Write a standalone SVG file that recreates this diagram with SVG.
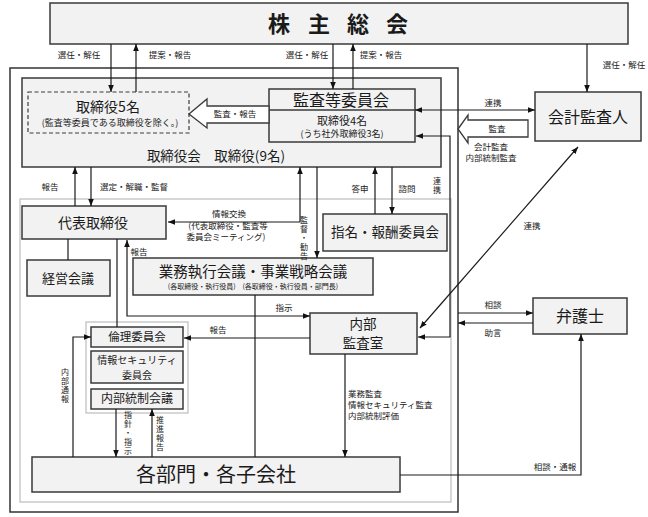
<svg xmlns="http://www.w3.org/2000/svg" width="648" height="517" viewBox="0 0 648 517">
<defs>
<marker id="ah" viewBox="0 0 10 10" refX="10" refY="5" markerWidth="7" markerHeight="7" markerUnits="userSpaceOnUse" orient="auto-start-reverse">
<path d="M0,1 L10,5 L0,9 z" fill="#111"/>
</marker>
<style>
text{font-family:"Noto Sans CJK JP","Noto Sans",sans-serif;fill:#1a1a1a;}
.box{fill:#f2f2f2;stroke:#3a3a3a;stroke-width:1.5;}
.lbl{font-size:8.5px;text-anchor:middle;}
.vl{font-size:8px;writing-mode:vertical-rl;letter-spacing:1px;}
.lbll{font-size:8.5px;}
.t{text-anchor:middle;}
.ln{fill:none;stroke:#1a1a1a;stroke-width:1.2;}
.ar{marker-end:url(#ah);}
.ar2{marker-start:url(#ah);marker-end:url(#ah);}
.hollow{fill:#fff;stroke:#3a3a3a;stroke-width:1.3;}
</style>
</defs>
<rect width="648" height="517" fill="#fff"/>

<!-- frames -->
<rect x="10" y="68" width="448" height="444" fill="none" stroke="#333" stroke-width="1.5"/>
<rect x="20" y="199" width="431" height="303" fill="none" stroke="#bdbdbd" stroke-width="1.2"/>

<g id="shareholders">
<rect class="box" x="50" y="3" width="578" height="41"/>
<text class="t" x="279" y="32" font-size="22" font-weight="bold">株</text>
<text class="t" x="319" y="32" font-size="22" font-weight="bold">主</text>
<text class="t" x="358" y="32" font-size="22" font-weight="bold">総</text>
<text class="t" x="397" y="32" font-size="22" font-weight="bold">会</text>
</g>

<g id="board">
<rect class="box" x="22" y="78" width="419" height="89"/>
<text x="285" y="161" font-size="13.5" text-anchor="end">取締役会　取締役(9名)</text>
</g>

<g id="directors5">
<rect x="28" y="92" width="161" height="41" fill="#f2f2f2" stroke="#3a3a3a" stroke-width="1.2" stroke-dasharray="4,2.5"/>
<text class="t" x="108" y="112" font-size="14">取締役5名</text>
<text class="t" x="110" y="126" font-size="9">(監査等委員である取締役を除く。)</text>
</g>

<g id="audit-committee">
<rect class="box" x="269" y="89" width="146" height="53"/>
<line x1="269" y1="110" x2="415" y2="110" stroke="#3a3a3a" stroke-width="1.3"/>
<text class="t" x="341" y="106" font-size="16">監査等委員会</text>
<text class="t" x="342" y="125" font-size="11">取締役4名</text>
<text class="t" x="342" y="137" font-size="9">(うち社外取締役3名)</text>
</g>

<g id="accounting-auditor">
<rect class="box" x="535" y="92" width="106" height="49"/>
<text class="t" x="588" y="123" font-size="16">会計監査人</text>
</g>

<g id="representative">
<rect class="box" x="22" y="206" width="144" height="33"/>
<text class="t" x="93" y="228" font-size="14">代表取締役</text>
</g>

<g id="nomination">
<rect class="box" x="323" y="214" width="124" height="37"/>
<text class="t" x="385" y="237" font-size="13.5">指名・報酬委員会</text>
</g>

<g id="management-meeting">
<rect class="box" x="27" y="260" width="83" height="36"/>
<text class="t" x="68" y="283" font-size="13">経営会議</text>
</g>

<g id="business-meeting">
<rect class="box" x="133" y="258" width="240" height="37"/>
<text class="t" x="253" y="277" font-size="14.5">業務執行会議・事業戦略会議</text>
<text class="t" x="253" y="289" font-size="7">(各取締役・執行役員)　(各取締役・執行役員・部門長)</text>
</g>

<g id="committees">
<rect x="86" y="322" width="102" height="91" fill="none" stroke="#bdbdbd" stroke-width="1.2"/>
<g id="ethics">
<rect class="box" x="91" y="327" width="92" height="20"/>
<text class="t" x="137" y="341" font-size="11.5">倫理委員会</text>
</g>
<g id="infosec">
<rect class="box" x="91" y="351" width="92" height="32"/>
<text class="t" x="137" y="364" font-size="10">情報セキュリティ</text>
<text class="t" x="137" y="379" font-size="10">委員会</text>
</g>
<g id="internal-control">
<rect class="box" x="91" y="389" width="92" height="20"/>
<text class="t" x="137" y="403" font-size="12">内部統制会議</text>
</g>
</g>

<g id="internal-audit">
<rect class="box" x="310" y="313" width="107" height="41"/>
<text class="t" x="363" y="329" font-size="13.5">内部</text>
<text class="t" x="363" y="348" font-size="13.5">監査室</text>
</g>

<g id="lawyer">
<rect class="box" x="533" y="298" width="94" height="36"/>
<text class="t" x="580" y="322" font-size="16">弁護士</text>
</g>

<g id="departments">
<rect class="box" x="32" y="457" width="368" height="35"/>
<text class="t" x="216" y="482" font-size="20">各部門・各子会社</text>
</g>

<g id="connectors">
<line class="ln ar" x1="111" y1="44" x2="111" y2="92"/>
<line class="ln ar" x1="136" y1="92" x2="136" y2="44"/>
<line class="ln ar" x1="333" y1="44" x2="333" y2="89"/>
<line class="ln ar" x1="353" y1="89" x2="353" y2="44"/>
<line class="ln ar" x1="587" y1="44" x2="587" y2="92"/>
<line class="ln ar2" x1="415" y1="110" x2="535" y2="110"/>
<path class="ln ar2" d="M416,136 L450,136 L450,337 L418,337"/>
<line class="ln ar2" x1="578" y1="147" x2="420" y2="328"/>
<line class="ln ar" x1="375" y1="214" x2="375" y2="167"/>
<line class="ln ar" x1="392" y1="167" x2="392" y2="214"/>
<line class="ln ar" x1="317" y1="167" x2="317" y2="258"/>
<path class="ln ar2" d="M168,222 L300,222 L300,167"/>
<line class="ln ar" x1="75" y1="206" x2="75" y2="167"/>
<line class="ln ar" x1="91" y1="167" x2="91" y2="206"/>
<line class="ln" x1="68" y1="239" x2="68" y2="260"/>
<line class="ln" x1="117" y1="239" x2="117" y2="327"/>
<path class="ln ar2" d="M127,240 L127,316 L310,316"/>
<line class="ln ar" x1="310" y1="338" x2="184" y2="338"/>
<line class="ln" x1="255" y1="295" x2="255" y2="457"/>
<line class="ln ar" x1="345" y1="354" x2="345" y2="457"/>
<path class="ln ar" d="M73,457 L73,337 L91,337"/>
<line class="ln ar" x1="116" y1="409" x2="116" y2="457"/>
<line class="ln ar" x1="152" y1="457" x2="152" y2="409"/>
<line class="ln ar" x1="458" y1="313" x2="533" y2="313"/>
<line class="ln ar" x1="533" y1="323" x2="458" y2="323"/>
<path class="ln ar" d="M400,475 L581,475 L581,334"/>
<polygon class="hollow" points="189,114 207,99 207,106 269,106 269,123 207,123 207,128"/>
<polygon class="hollow" points="458,129 468,115 468,120 528,120 528,137 468,137 468,143"/>
</g>

<g id="labels">
<text class="lbl" x="79" y="58">選任・解任</text>
<text class="lbl" x="170" y="58">提案・報告</text>
<text class="lbl" x="307" y="58">選任・解任</text>
<text class="lbl" x="381" y="58">提案・報告</text>
<text class="lbl" x="624" y="68">選任・解任</text>
<text class="lbl" x="235" y="117">監査・報告</text>
<text class="lbl" x="493" y="106">連携</text>
<text class="lbl" x="497" y="132">監査</text>
<text class="lbl" x="491" y="150">会計監査</text>
<text class="lbl" x="491" y="161">内部統制監査</text>
<text class="lbl" x="50" y="190">報告</text>
<text class="lbl" x="134" y="190">選定・解職・監督</text>
<text class="lbl" x="360" y="192">答申</text>
<text class="lbl" x="407" y="192">諮問</text>
<text class="vl" x="437" y="177">連携</text>
<text class="lbl" x="229" y="217">情報交換</text>
<text class="lbl" x="228" y="229">(代表取締役・監査等</text>
<text class="lbl" x="226" y="240">委員会ミーティング)</text>
<text class="vl" x="304" y="216">監督・勧告</text>
<text class="lbl" x="532" y="229">連携</text>
<text class="lbl" x="139" y="255">報告</text>
<text class="lbl" x="284" y="311">指示</text>
<text class="lbl" x="218" y="333">報告</text>
<text class="lbl" x="493" y="308">相談</text>
<text class="lbl" x="493" y="336">助言</text>
<text class="lbll" x="348" y="397">業務監査</text>
<text class="lbll" x="348" y="408">情報セキュリティ監査</text>
<text class="lbll" x="348" y="419">内部統制評価</text>
<text class="vl" x="65" y="368">内部通報</text>
<text class="vl" x="128" y="411">指針・指示</text>
<text class="vl" x="160" y="416">推進報告</text>
<text class="lbl" x="555" y="470">相談・通報</text>
</g>
</svg>
